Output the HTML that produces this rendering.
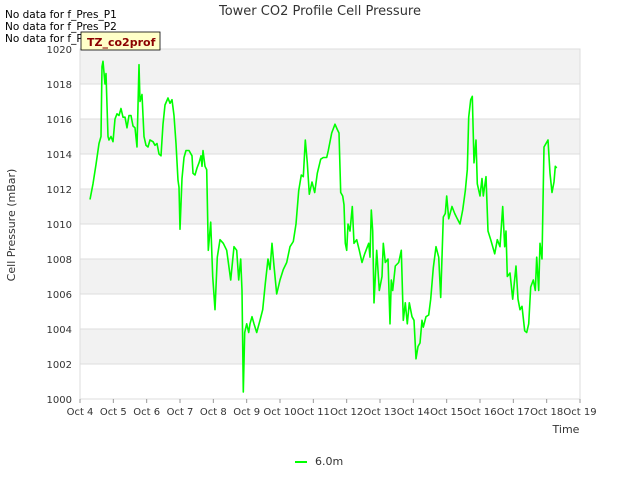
<!DOCTYPE html>
<html><head><meta charset="utf-8"><style>
body{margin:0;background:#fff;font-family:"Liberation Sans","DejaVu Sans",sans-serif;}
svg text{font-family:"DejaVu Sans","Liberation Sans",sans-serif;}
</style></head><body>
<svg id="c" width="640" height="480" viewBox="0 0 640 480">
<text x="320" y="15" text-anchor="middle" font-size="13" fill="#333">Tower CO2 Profile Cell Pressure</text>
<g id="plot"></g>
<text x="5" y="18" font-size="10.5" fill="#000">No data for f_Pres_P1</text>
<text x="5" y="30" font-size="10.5" fill="#000">No data for f_Pres_P2</text>
<text x="5" y="42" font-size="10.5" fill="#000">No data for f_Pres_P4</text>
<rect x="81" y="32" width="79" height="18" fill="#ffffc8" stroke="#000" stroke-width="0.8"/>
<text x="87" y="46" font-size="11" font-weight="bold" fill="#8b0000">TZ_co2prof</text>
<text x="15" y="225" font-size="11" fill="#333" text-anchor="middle" transform="rotate(-90 15 225)">Cell Pressure (mBar)</text>
<text x="566" y="433" font-size="11" fill="#333" text-anchor="middle">Time</text>
<line x1="295" y1="462" x2="307" y2="462" stroke="#00ff00" stroke-width="2"/>
<text x="315" y="465" font-size="11" fill="#333">6.0m</text>
</svg>
<script>
const days=[0.30,0.39,0.48,0.57,0.63,0.66,0.69,0.75,0.78,0.84,0.87,0.93,0.99,1.05,1.11,1.17,1.23,1.29,1.35,1.41,1.47,1.53,1.59,1.65,1.71,1.77,1.80,1.86,1.92,1.98,2.04,2.10,2.19,2.25,2.31,2.37,2.43,2.49,2.55,2.64,2.70,2.76,2.82,2.88,2.94,2.97,3.00,3.06,3.12,3.18,3.27,3.36,3.39,3.45,3.51,3.57,3.63,3.66,3.69,3.75,3.80,3.85,3.92,3.98,4.05,4.12,4.20,4.30,4.40,4.52,4.62,4.70,4.76,4.82,4.86,4.90,4.94,5.00,5.06,5.10,5.16,5.22,5.30,5.40,5.48,5.56,5.64,5.70,5.76,5.82,5.90,6.00,6.10,6.20,6.30,6.40,6.48,6.56,6.64,6.70,6.76,6.82,6.88,6.96,7.04,7.12,7.22,7.30,7.40,7.45,7.55,7.65,7.72,7.77,7.82,7.88,7.92,7.96,8.00,8.04,8.10,8.17,8.22,8.30,8.38,8.46,8.54,8.66,8.70,8.74,8.78,8.82,8.90,8.98,9.06,9.10,9.16,9.24,9.30,9.34,9.38,9.46,9.56,9.64,9.70,9.76,9.82,9.88,9.96,10.02,10.08,10.14,10.20,10.26,10.30,10.38,10.46,10.52,10.60,10.68,10.76,10.82,10.90,10.96,11.00,11.06,11.16,11.24,11.32,11.40,11.48,11.56,11.62,11.66,11.72,11.77,11.82,11.88,11.92,12.00,12.06,12.10,12.18,12.24,12.32,12.38,12.44,12.52,12.60,12.68,12.74,12.78,12.82,12.90,12.98,13.08,13.14,13.20,13.26,13.34,13.40,13.46,13.52,13.60,13.66,13.70,13.76,13.80,13.86,13.92,13.98,14.04,14.10,14.16,14.22,14.26,14.30];
const pressure=[1011.4,1012.3,1013.4,1014.6,1015.0,1019.0,1019.3,1018.0,1018.6,1015.0,1014.8,1015.0,1014.7,1016.0,1016.3,1016.2,1016.6,1016.1,1016.1,1015.5,1016.2,1016.2,1015.6,1015.5,1014.4,1019.1,1017.0,1017.4,1015.0,1014.5,1014.4,1014.8,1014.7,1014.5,1014.6,1014.0,1013.9,1015.7,1016.8,1017.2,1016.9,1017.1,1016.2,1014.6,1012.5,1012.1,1009.7,1012.6,1013.8,1014.2,1014.2,1013.9,1012.9,1012.8,1013.2,1013.5,1013.9,1013.3,1014.2,1013.3,1013.1,1008.5,1010.1,1007.0,1005.1,1008.1,1009.1,1008.9,1008.5,1006.8,1008.7,1008.5,1006.8,1008.0,1006.2,1000.4,1003.8,1004.3,1003.8,1004.3,1004.7,1004.3,1003.8,1004.5,1005.1,1006.6,1008.0,1007.4,1008.9,1007.6,1006.0,1006.8,1007.4,1007.8,1008.7,1009.0,1010.0,1011.9,1012.8,1012.7,1014.8,1013.5,1011.7,1012.4,1011.8,1012.9,1013.7,1013.8,1013.8,1014.2,1015.2,1015.7,1015.4,1015.2,1011.8,1011.6,1011.1,1008.9,1008.5,1010.0,1009.6,1011.0,1008.9,1009.1,1008.5,1007.8,1008.3,1008.9,1008.1,1010.8,1009.6,1005.5,1008.5,1006.2,1007.0,1008.9,1007.8,1008.0,1004.3,1006.8,1006.2,1007.6,1007.8,1008.5,1004.5,1005.5,1004.3,1005.5,1004.7,1004.5,1002.3,1003.0,1003.2,1004.5,1004.1,1004.7,1004.8,1005.7,1007.5,1008.7,1008.1,1005.8,1010.4,1010.6,1011.6,1010.3,1011.0,1010.6,1010.3,1010.0,1010.8,1011.9,1013.1,1016.1,1017.1,1017.3,1013.5,1014.8,1012.3,1011.6,1012.6,1011.6,1012.7,1009.6,1009.1,1008.7,1008.3,1009.1,1008.7,1011.0,1008.7,1009.6,1007.0,1007.2,1005.7,1007.6,1005.7,1005.1,1005.3,1003.9,1003.8,1004.3,1006.4,1006.8,1006.2,1008.1,1006.2,1008.9,1008.0,1014.4,1014.6,1014.8,1012.9,1011.8,1012.4,1013.3,1013.2];
const yTicks=[1000,1002,1004,1006,1008,1010,1012,1014,1016,1018,1020];
const xTickLabels=["Oct 4","Oct 5","Oct 6","Oct 7","Oct 8","Oct 9","Oct 10","Oct 11","Oct 12","Oct 13","Oct 14","Oct 15","Oct 16","Oct 17","Oct 18","Oct 19"];
const X0=80,X1=580,Y0=399,Y1=49,DMAX=15,PMIN=1000,PMAX=1020;
const sx=d=>X0+(X1-X0)*d/DMAX;
const sy=v=>Y0-(Y0-Y1)*(v-PMIN)/(PMAX-PMIN);
const NS="http://www.w3.org/2000/svg";
const plot=document.getElementById('plot');
function mk(t,a){const e=document.createElementNS(NS,t);for(const k in a)e.setAttribute(k,a[k]);return e;}
for(let i=0;i<yTicks.length-1;i++){
  if(i%2===1){const r=mk('rect',{x:X0,y:sy(yTicks[i+1]),width:X1-X0,height:sy(yTicks[i])-sy(yTicks[i+1]),fill:'#f2f2f2'});
  
  
  plot.appendChild(r);}
}
yTicks.forEach(v=>{
  const l=mk('line',{x1:X0,x2:X1,y1:sy(v),y2:sy(v),stroke:'#dddddd','stroke-width':1});
  
  
  plot.appendChild(l);
  const t=mk('text',{x:72,y:sy(v)+4,'text-anchor':'end','font-size':10,fill:'#333'});
  t.textContent=v;
  
  
  plot.appendChild(t);
});
const border=mk('rect',{x:X0,y:Y1,width:X1-X0,height:Y0-Y1,fill:'none',stroke:'#dddddd'});


plot.appendChild(border);
xTickLabels.forEach((s,i)=>{
  const tk=mk('line',{x1:sx(i),x2:sx(i),y1:Y0,y2:Y0+4,stroke:'#999'});
  
  
  plot.appendChild(tk);
  const t=mk('text',{x:sx(i),y:415,'text-anchor':'middle','font-size':10,fill:'#333'});
  t.textContent=s;
  
  
  plot.appendChild(t);
});
const pts=days.map((d,i)=>sx(d).toFixed(1)+','+sy(pressure[i]).toFixed(1)).join(' ');
const line=mk('polyline',{points:pts,fill:'none',stroke:'#00ff00','stroke-width':1.6,'stroke-linejoin':'round'});


plot.appendChild(line);
</script>
</body></html>
